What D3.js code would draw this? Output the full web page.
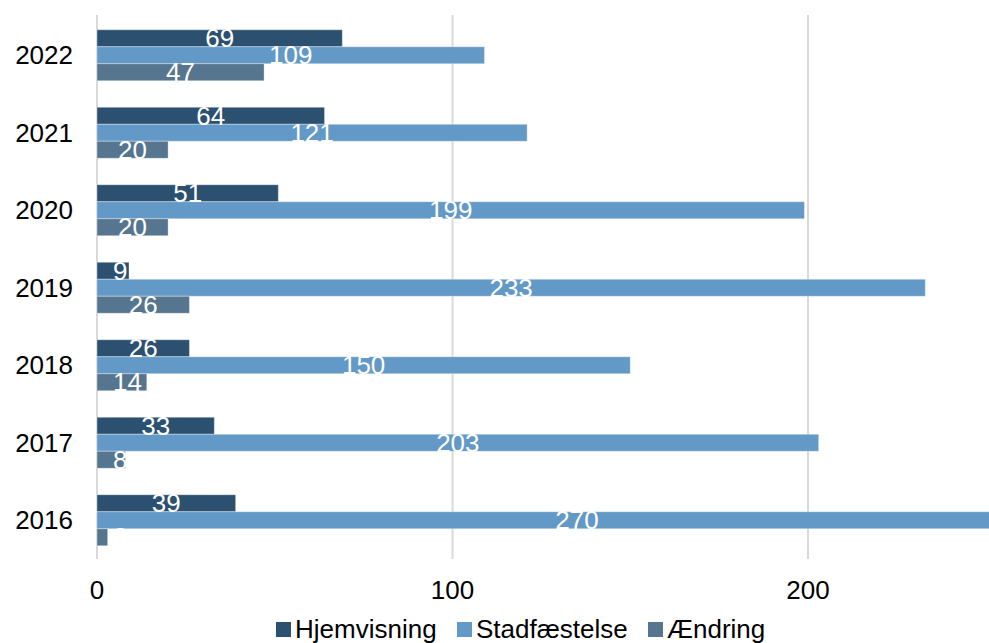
<!DOCTYPE html>
<html><head><meta charset="utf-8">
<script src="https://cdn.jsdelivr.net/npm/d3@7/dist/d3.min.js"></script>
<style>body{margin:0;background:#fff}</style>
</head><body>
<svg id="c" width="989" height="643"></svg>
<script>
const years = ["2022","2021","2020","2019","2018","2017","2016"];
const seriesNames = ["Hjemvisning","Stadfæstelse","Ændring"];
const hjemvisning = [69,64,51,9,26,33,39];
const stadfaestelse = [109,121,199,233,150,203,270];
const aendring = [47,20,20,26,14,8,3];
const xTicks = [0,100,200];
const colors = ["#2b5070","#6399c6","#56758f"];

const values = [hjemvisning, stadfaestelse, aendring];
const svg = d3.select("#c");
const font = "Liberation Sans, Arial, sans-serif";
const fs = 26;
const x = d3.scaleLinear().domain([0,200]).range([97,808]);
const y = d3.scaleBand().domain(years).range([16.5,559]).paddingInner(0.342).paddingOuter(0.171);
const yi = d3.scaleBand().domain(seriesNames).range([0,y.bandwidth()]);

// gridlines
svg.append("g").selectAll("line").data(xTicks).join("line")
  .attr("x1",d=>x(d)).attr("x2",d=>x(d)).attr("y1",15).attr("y2",559)
  .attr("stroke","#d9d9d9").attr("stroke-width",2);

// x tick labels
svg.append("g").selectAll("text").data(xTicks).join("text")
  .attr("x",d=>x(d)).attr("y",599).attr("text-anchor","middle")
  .attr("font-family",font).attr("font-size",fs).attr("fill","#000").text(d=>d);

// year labels
svg.append("g").selectAll("text").data(years).join("text")
  .attr("x",73).attr("y",d=>y(d)+y.bandwidth()/2+9).attr("text-anchor","end")
  .attr("font-family",font).attr("font-size",fs).attr("fill","#000").text(d=>d);

const g = svg.append("g");
seriesNames.forEach((s,si)=>{
  const data = years.map((yr,i)=>({yr, v: values[si][i]}));
  g.append("g").selectAll("rect").data(data).join("rect")
    .attr("x",x(0)).attr("y",d=>y(d.yr)+yi(s))
    .attr("width",d=>x(d.v)-x(0)).attr("height",yi.bandwidth())
    .attr("fill",colors[si]).attr("stroke","rgba(255,255,255,0.35)").attr("stroke-width",1);
});
seriesNames.forEach((s,si)=>{
  const data = years.map((yr,i)=>({yr, v: values[si][i]}));
  g.append("g").selectAll("text").data(data).join("text")
    .attr("y",d=>y(d.yr)+yi(s)+yi.bandwidth()/2+9)
    .attr("text-anchor","middle").attr("font-family",font).attr("font-size",fs)
    .attr("fill","#fff").text(d=>d.v)
    .attr("x",function(d){
      const w = this.getComputedTextLength();
      return Math.max((x(0)+x(d.v))/2, x(0)+16+w/2);
    });
});

// legend
const legX = [276,457,648];
const leg = svg.append("g");
seriesNames.forEach((s,i)=>{
  leg.append("rect").attr("x",legX[i]).attr("y",622).attr("width",15).attr("height",15).attr("fill",colors[i]);
  leg.append("text").attr("x",legX[i]+19).attr("y",638).attr("font-family",font).attr("font-size",fs)
    .attr("fill","#000").text(s);
});
</script>
</body></html>
